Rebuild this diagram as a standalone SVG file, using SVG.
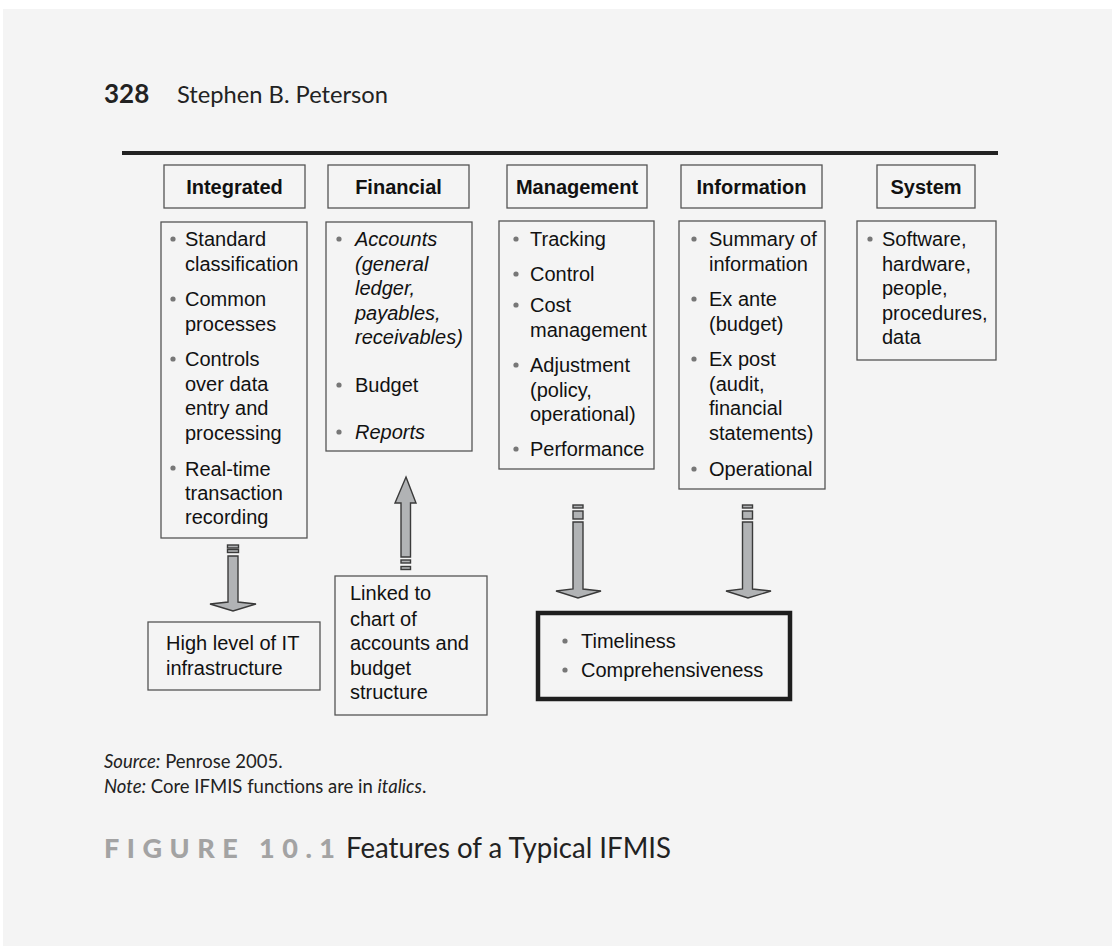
<svg xmlns="http://www.w3.org/2000/svg" width="1112" height="946" viewBox="0 0 1112 946">
<style>
.box{fill:none;stroke:#555;stroke-width:1.3}
.hd{font-family:"Liberation Sans",Arial,sans-serif;font-size:20px;font-weight:bold;fill:#111;text-anchor:middle}
.t{font-family:"Liberation Sans",Arial,sans-serif;font-size:20px;fill:#111}
.i{font-style:italic}
.b{fill:#777}
.arr{fill:#b1b3b5;stroke:#3a3a3a;stroke-width:1.4;stroke-linejoin:miter}
.cap{font-family:Lato,"Open Sans",sans-serif;fill:#222}
</style>
<rect x="0" y="0" width="1112" height="946" fill="#ffffff"/>
<rect x="3" y="9" width="1109" height="937" fill="#f4f4f4"/>

<text class="cap" x="104" y="103" font-size="26" font-weight="bold">328</text>
<text class="cap" x="177" y="103" font-size="24" textLength="211" lengthAdjust="spacingAndGlyphs">Stephen B. Peterson</text>
<rect x="122" y="151" width="876" height="4" fill="#222"/>

<g id="hdr-integrated"><rect class="box" x="164" y="165" width="141" height="43"/><text class="hd" x="234.5" y="194">Integrated</text></g>
<g id="hdr-financial"><rect class="box" x="328" y="165" width="141" height="43"/><text class="hd" x="398.5" y="194">Financial</text></g>
<g id="hdr-management"><rect class="box" x="507" y="165" width="140" height="43"/><text class="hd" x="577" y="194">Management</text></g>
<g id="hdr-information"><rect class="box" x="681" y="165" width="141" height="43"/><text class="hd" x="751.5" y="194">Information</text></g>
<g id="hdr-system"><rect class="box" x="877" y="165" width="98" height="43"/><text class="hd" x="926" y="194">System</text></g>

<g id="box-integrated">
<rect class="box" x="161" y="222" width="146" height="316"/>
<circle class="b" cx="173" cy="239" r="2.6"/><circle class="b" cx="173" cy="299" r="2.6"/><circle class="b" cx="173" cy="359" r="2.6"/><circle class="b" cx="173" cy="468" r="2.6"/>
<text class="t" x="185" y="246">Standard</text><text class="t" x="185" y="271">classification</text>
<text class="t" x="185" y="306">Common</text><text class="t" x="185" y="331">processes</text>
<text class="t" x="185" y="366">Controls</text><text class="t" x="185" y="391">over data</text><text class="t" x="185" y="415">entry and</text><text class="t" x="185" y="440">processing</text>
<text class="t" x="185" y="476">Real-time</text><text class="t" x="185" y="500">transaction</text><text class="t" x="185" y="524">recording</text>
</g>

<g id="box-financial">
<rect class="box" x="326" y="222" width="146" height="229"/>
<circle class="b" cx="339" cy="239" r="2.6"/><circle class="b" cx="339" cy="385" r="2.6"/><circle class="b" cx="339" cy="432" r="2.6"/>
<text class="t i" x="355" y="246">Accounts</text><text class="t i" x="355" y="271">(general</text><text class="t i" x="355" y="295">ledger,</text><text class="t i" x="355" y="320">payables,</text><text class="t i" x="355" y="344">receivables)</text>
<text class="t" x="355" y="392">Budget</text>
<text class="t i" x="355" y="439">Reports</text>
</g>

<g id="box-management">
<rect class="box" x="499" y="221" width="155" height="248"/>
<circle class="b" cx="516" cy="239" r="2.6"/><circle class="b" cx="516" cy="274" r="2.6"/><circle class="b" cx="516" cy="305" r="2.6"/><circle class="b" cx="516" cy="365" r="2.6"/><circle class="b" cx="516" cy="449" r="2.6"/>
<text class="t" x="530" y="246">Tracking</text>
<text class="t" x="530" y="281">Control</text>
<text class="t" x="530" y="312">Cost</text><text class="t" x="530" y="337">management</text>
<text class="t" x="530" y="372">Adjustment</text><text class="t" x="530" y="397">(policy,</text><text class="t" x="530" y="421">operational)</text>
<text class="t" x="530" y="456">Performance</text>
</g>

<g id="box-information">
<rect class="box" x="679" y="221" width="146" height="268"/>
<circle class="b" cx="694" cy="239" r="2.6"/><circle class="b" cx="694" cy="299" r="2.6"/><circle class="b" cx="694" cy="359" r="2.6"/><circle class="b" cx="694" cy="469" r="2.6"/>
<text class="t" x="709" y="246">Summary of</text><text class="t" x="709" y="271">information</text>
<text class="t" x="709" y="306">Ex ante</text><text class="t" x="709" y="331">(budget)</text>
<text class="t" x="709" y="366">Ex post</text><text class="t" x="709" y="391">(audit,</text><text class="t" x="709" y="415">financial</text><text class="t" x="709" y="440">statements)</text>
<text class="t" x="709" y="476">Operational</text>
</g>

<g id="box-system">
<rect class="box" x="857" y="221" width="139" height="139"/>
<circle class="b" cx="870" cy="239" r="2.6"/>
<text class="t" x="882" y="246">Software,</text><text class="t" x="882" y="271">hardware,</text><text class="t" x="882" y="295">people,</text><text class="t" x="882" y="320">procedures,</text><text class="t" x="882" y="344">data</text>
</g>

<g id="box-it">
<rect class="box" x="148" y="622" width="172" height="68"/>
<text class="t" x="166" y="650">High level of IT</text><text class="t" x="166" y="675">infrastructure</text>
</g>

<g id="box-linked">
<rect class="box" x="335" y="576" width="152" height="139"/>
<text class="t" x="350" y="600">Linked to</text><text class="t" x="350" y="626">chart of</text><text class="t" x="350" y="650">accounts and</text><text class="t" x="350" y="675">budget</text><text class="t" x="350" y="699">structure</text>
</g>

<g id="box-timeliness">
<rect x="538" y="613" width="252" height="86" fill="none" stroke="#1e1e1e" stroke-width="4.5"/>
<circle class="b" cx="565" cy="641" r="2.6"/><circle class="b" cx="565" cy="670" r="2.6"/>
<text class="t" x="581" y="648">Timeliness</text><text class="t" x="581" y="677">Comprehensiveness</text>
</g>

<g id="connectors">
<rect class="arr" x="227.5" y="545" width="11" height="3"/>
<rect class="arr" x="227.5" y="549.5" width="11" height="3"/>
<polygon class="arr" points="228,556 238,556 238,602 256,604 233,611 210,604 228,602"/>
<polygon class="arr" points="406,477 416,503 410.5,503 410.5,557 401,557 401,503 395,503"/>
<rect class="arr" x="401" y="560" width="9.5" height="3"/>
<rect class="arr" x="401" y="566.5" width="9.5" height="3"/>
<rect class="arr" x="573" y="505" width="10" height="3"/>
<rect class="arr" x="573" y="511" width="10" height="8"/>
<polygon class="arr" points="573,522 583,522 583,589 601,591 578,598 556,591 573,589"/>
<rect class="arr" x="742.5" y="505" width="10" height="3"/>
<rect class="arr" x="742.5" y="511" width="10" height="8"/>
<polygon class="arr" points="742.5,522 752.5,522 752.5,589 771,591 748,598 726,591 742.5,589"/>
</g>

<text class="cap" x="104" y="768" font-size="18.5"><tspan font-style="italic">Source:</tspan> Penrose 2005.</text>
<text class="cap" x="104" y="793" font-size="18.5"><tspan font-style="italic">Note:</tspan> Core IFMIS functions are in <tspan font-style="italic">italics</tspan>.</text>
<text x="104" y="858" font-family="Lato,'Open Sans',sans-serif" font-size="27" font-weight="900" fill="#a3a3a3" letter-spacing="7.5">FIGURE 10.1</text>
<text class="cap" x="346" y="858" font-size="28" fill="#1a1a1a" textLength="325" lengthAdjust="spacingAndGlyphs">Features of a Typical IFMIS</text>
</svg>
